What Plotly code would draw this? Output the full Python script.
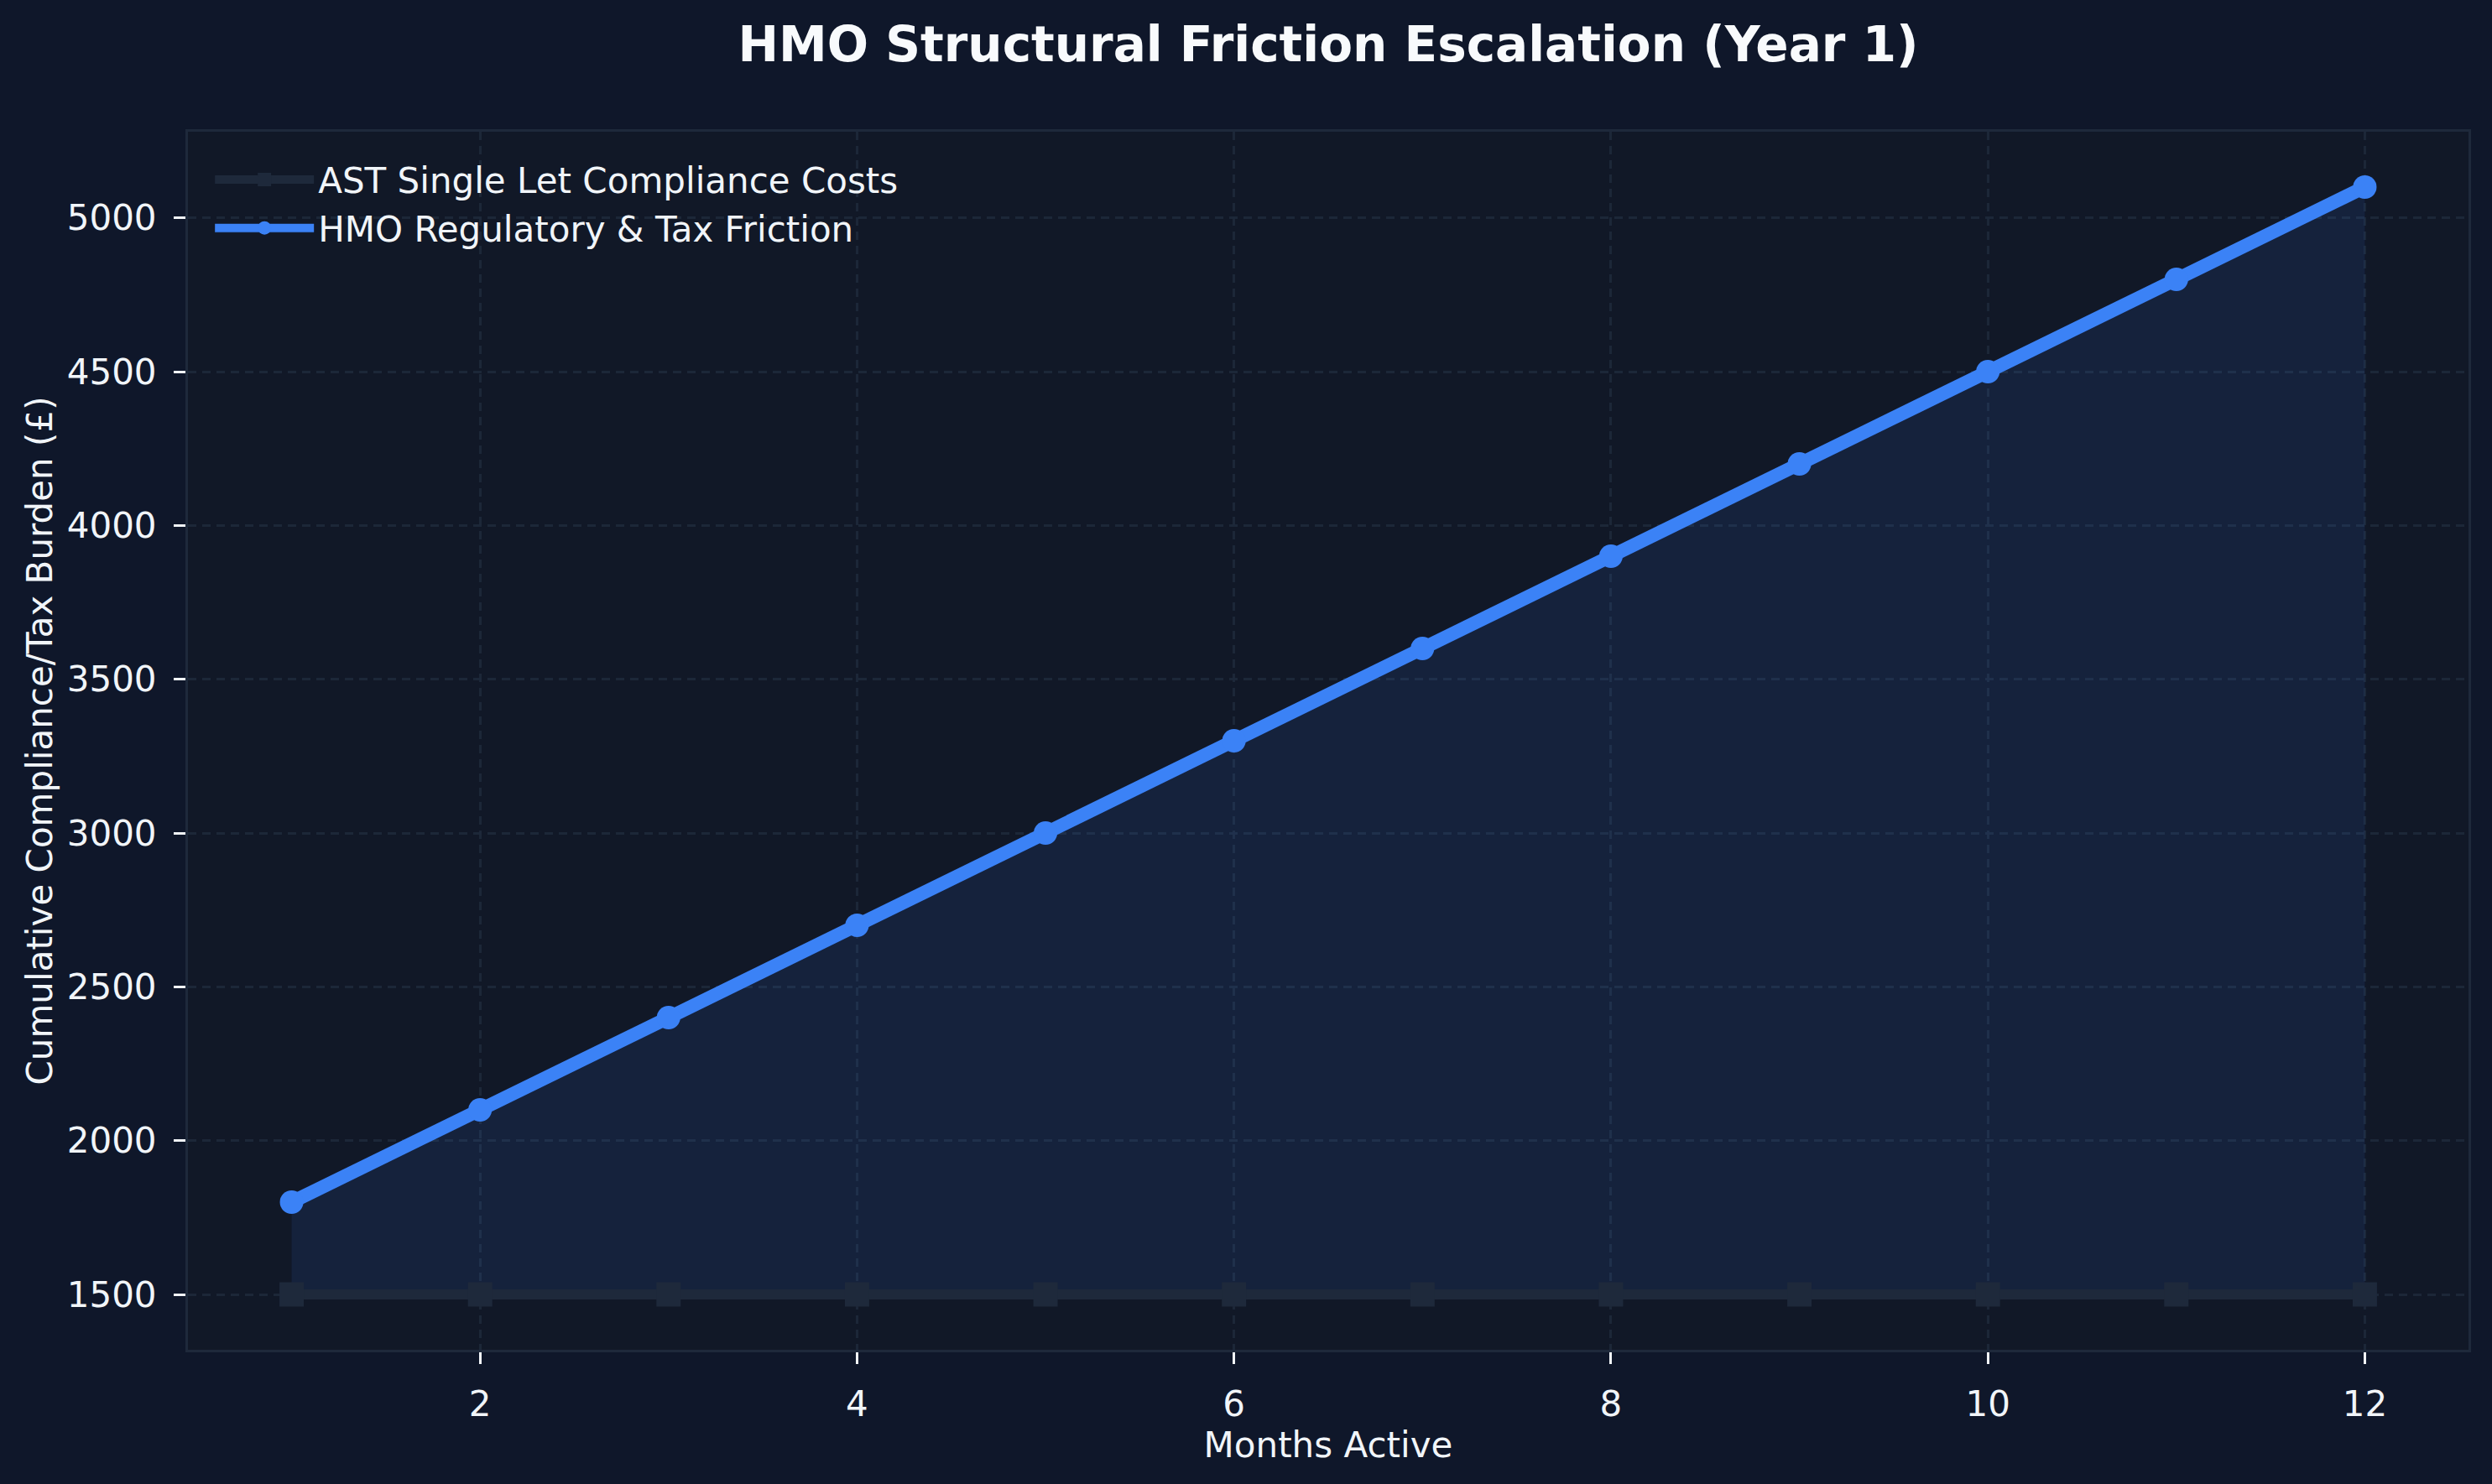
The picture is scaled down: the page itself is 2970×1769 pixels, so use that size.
import plotly.graph_objects as go

months = [1, 2, 3, 4, 5, 6, 7, 8, 9, 10, 11, 12]
ast_costs = [1500, 1500, 1500, 1500, 1500, 1500, 1500, 1500, 1500, 1500, 1500, 1500]
hmo_friction = [1800, 2100, 2400, 2700, 3000, 3300, 3600, 3900, 4200, 4500, 4800, 5100]
x_ticks = [2, 4, 6, 8, 10, 12]
y_ticks = [1500, 2000, 2500, 3000, 3500, 4000, 4500, 5000]

ast_name = "AST Single Let Compliance Costs"
hmo_name = "HMO Regulatory & Tax Friction"
title_text = "HMO Structural Friction Escalation (Year 1)"
x_title = "Months Active"
y_title = "Cumulative Compliance/Tax Burden (£)"

FONT = "DejaVu Sans"
TXT = "#f1f5f9"
GRID = "rgba(30,41,59,0.9)"

fig = go.Figure()
fig.add_trace(go.Scatter(
    x=months, y=ast_costs, name=ast_name, mode="lines+markers",
    line=dict(color="#1e293b", width=12),
    marker=dict(symbol="square", size=29, color="#1e293b"),
))
fig.add_trace(go.Scatter(
    x=months, y=hmo_friction, name=hmo_name, mode="lines+markers",
    line=dict(color="#3b82f6", width=16),
    marker=dict(symbol="circle", size=28, color="#3b82f6"),
    fill="tonexty", fillcolor="rgba(59,130,246,0.1)",
))

fig.update_layout(
    width=2970, height=1769,
    paper_bgcolor="#0f172a", plot_bgcolor="#111827",
    margin=dict(l=224, r=28, t=157, b=160),
    font=dict(family=FONT, size=42, color=TXT),
    title=dict(text="<b>" + title_text + "</b>", x=0.5, xref="paper",
               y=1 - 53 / 1769, yanchor="middle",
               font=dict(family=FONT, size=58, color="#f8fafc")),
    legend=dict(x=0.010, y=0.984, xanchor="left", yanchor="top",
                traceorder="normal",
                bgcolor="rgba(0,0,0,0)", font=dict(size=42, color=TXT),
                itemwidth=118, tracegroupgap=0),
    showlegend=True,
)
fig.update_xaxes(
    range=[0.45, 12.55], tickvals=x_ticks, ticks="outside", ticklen=14,
    tickwidth=3, tickcolor=TXT, ticklabelstandoff=12,
    showgrid=True, gridcolor=GRID, gridwidth=3, griddash="10px,7px",
    showline=True, linecolor="#1e293b", linewidth=3, mirror=True,
    zeroline=False,
    title=dict(text=x_title, font=dict(size=42, color=TXT), standoff=2),
)
fig.update_yaxes(
    range=[1320, 5280], tickvals=y_ticks, ticks="outside", ticklen=14,
    tickwidth=3, tickcolor=TXT, ticklabelstandoff=12,
    showgrid=True, gridcolor=GRID, gridwidth=3, griddash="10px,7px",
    showline=True, linecolor="#1e293b", linewidth=3, mirror=True,
    zeroline=False,
    title=dict(text=y_title, font=dict(size=42, color=TXT), standoff=5),
)

fig.write_html("out.html")
